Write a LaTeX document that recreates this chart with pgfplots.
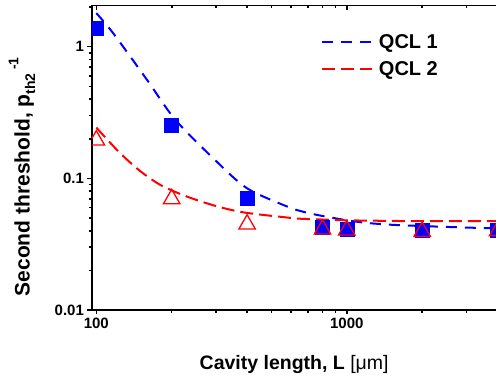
\documentclass[border=0pt]{standalone}
\usepackage{fontspec}
\setmainfont{Liberation Sans}
\usepackage{pgfplots}
\pgfplotsset{compat=1.18}
\begin{document}
\begin{tikzpicture}
\useasboundingbox (-91.7pt,-67pt) rectangle (404.3pt,310pt);
\begin{axis}[
  at={(0,0)}, anchor=south west,
  scale only axis, width=407.3pt, height=304.5pt,
  xmode=log, ymode=log,
  xmin=95.86, xmax=4052, ymin=0.01, ymax=2.055,
  xtick={100,1000}, xticklabels={100,1000},
  ytick={0.01,0.1,1}, yticklabels={0.01,0.1,1},
  minor xtick={200,300,400,500,600,700,800,900,2000,3000,4000},
  minor ytick={0.02,0.03,0.04,0.05,0.06,0.07,0.08,0.09,0.2,0.3,0.4,0.5,0.6,0.7,0.8,0.9,2},
  xtick style={line width=1.6pt, black},
  ytick style={line width=1.6pt, black},
  axis line style={line width=1.9pt},
  tick align=outside,
  xtick pos=left, ytick pos=left,
  clip marker paths=true,
  tick label style={font=\fontsize{15}{18}\selectfont\bfseries},
  xlabel={Cavity length, L \textmd{[μm]}},
  xlabel style={at={(axis description cs:0.497,0)}, anchor=base, yshift=-59pt, font=\fontsize{19.5}{23}\selectfont\bfseries},
  ylabel={Second threshold, p\raisebox{-0.5ex}{\fontsize{14}{14}\selectfont th2}\,\raisebox{1.0ex}{\fontsize{14}{14}\selectfont -1}},
  ylabel style={at={(axis description cs:-0.1527,0.437)}, anchor=base, font=\fontsize{21}{25}\selectfont\bfseries},
  legend style={draw=none, fill=none, at={(axis description cs:0.555,0.92)}, anchor=north west,
    font=\fontsize{20}{24}\selectfont\bfseries, row sep=8pt},
  legend cell align=left,
  legend image code/.code={\draw[#1] (0pt,0pt) -- (50pt,0pt);},
  legend style={nodes={inner xsep=6pt}},
]
\addplot[blue, line width=2pt, dash pattern=on 11pt off 8pt, smooth, tension=0.5, mark=none] coordinates {
(100,1.8) (117,1.26) (159.5,0.559) (207,0.278) (300,0.136) (400,0.084) (579,0.061) (681,0.0553) (820,0.0513) (1011,0.0479) (1183,0.046) (1397,0.0448) (1670,0.044) (2380,0.0429) (3400,0.0420) (4052,0.0418)};
\addlegendentry{QCL 1}
\addplot[red, line width=2pt, dash pattern=on 13pt off 6pt, smooth, tension=0.5, mark=none] coordinates {
(100,0.243) (122.8,0.1595) (147.6,0.116) (177.5,0.0906) (213,0.077) (253,0.0682) (306,0.061) (371,0.0559) (442,0.0533) (536,0.0512) (644,0.0494) (787,0.0487) (1000,0.0480) (1500,0.0475) (2000,0.0473) (4052,0.0473)};
\addlegendentry{QCL 2}
\addplot[only marks, mark=square*, mark size=7pt, mark options={fill=blue, draw=blue, line width=0.5pt}, forget plot] coordinates {
(100,1.37) (200,0.254) (400,0.0705) (800,0.0426) (1000,0.041) (2000,0.0401) (4000,0.0404)};
\addplot[only marks, mark=triangle, mark size=9.5pt, mark options={draw=red, fill=none, line width=1.3pt}, forget plot] coordinates {
(100,0.195) (200,0.0698) (400,0.0448) (800,0.041) (1000,0.0404) (2000,0.0394) (4000,0.0398)};
\end{axis}
\begin{axis}[
  at={(0,0)}, anchor=south west,
  scale only axis, width=407.3pt, height=304.5pt,
  xmode=log, ymode=log,
  xmin=95.86, xmax=4052, ymin=0.01, ymax=2.055,
  xtick={100,1000}, xticklabels={},
  minor xtick={200,300,400,500,600,700,800,900,2000,3000,4000},
  xtick style={line width=1.6pt, black},
  axis line style={line width=1.9pt},
  tick align=inside,
  axis x line*=top, hide y axis,
]
\end{axis}
\end{tikzpicture}
\end{document}
